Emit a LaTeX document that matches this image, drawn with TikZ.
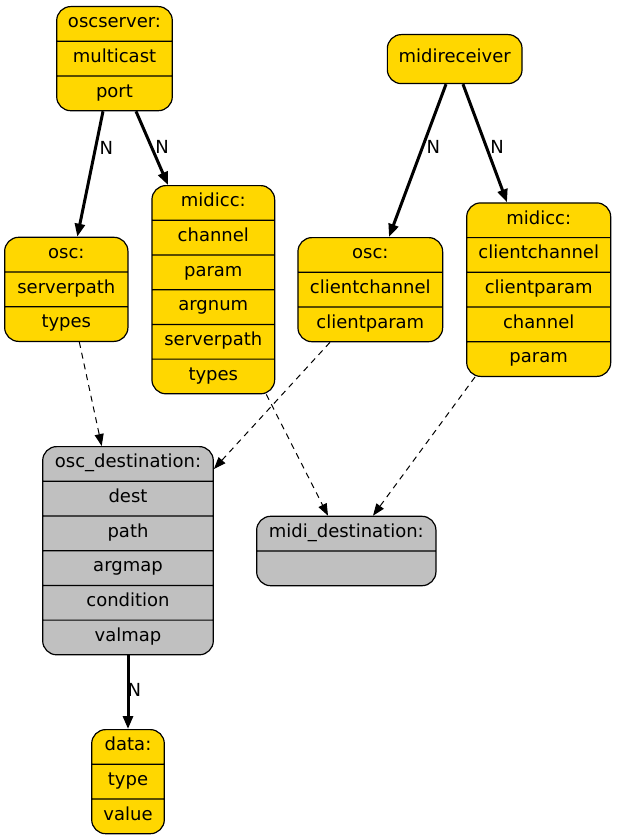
\documentclass[tikz,border=0pt]{standalone}
\usepackage{fontspec}
\setmainfont{DejaVu Sans}
\usetikzlibrary{shapes.multipart,arrows.meta}

\definecolor{recgold}{HTML}{FFD700}
\definecolor{recgray}{HTML}{C0C0C0}

% one field of a record
\newcommand{\fld}[1]{\rule[-12.85pt]{0pt}{33.5pt}#1}

\begin{document}
\begin{tikzpicture}[x=1pt,y=-1pt,
	every node/.style={font=\fontsize{18}{21}\selectfont},
	rec/.style={draw,line width=1.2pt,rectangle split,rounded corners=14pt,anchor=north,inner xsep=0pt,inner ysep=0pt,align=center},
	has/.style={line width=3pt,-{Triangle[length=13pt,width=10pt]}},
	ref/.style={line width=1pt,dash pattern=on 6pt off 5pt,-{Triangle[length=12pt,width=9pt]}},
	card/.style={anchor=west,inner sep=0pt,xshift=2.5pt}]
	\useasboundingbox (0,0) rectangle (616,840);
			\node[rec,fill=recgold,text width=115.6pt,rectangle split parts=3] (oscserver)at(114.5,6) {\fld{oscserver:}\nodepart{two}\fld{multicast}\nodepart{three}\fld{port}};
			\node[rec,fill=recgold,text width=134.7pt,rectangle split parts=1] (midireceiver)at(454.7,34) {\rule[-20pt]{0pt}{47.8pt}midireceiver};
			\node[rec,fill=recgold,text width=123.3pt,rectangle split parts=3] (oscL)at(66.3,236.7) {\fld{osc:}\nodepart{two}\fld{serverpath}\nodepart{three}\fld{types}};
			\node[rec,fill=recgold,text width=122.7pt,rectangle split parts=6] (midiccL)at(213.3,185) {\fld{midicc:}\nodepart{two}\fld{channel}\nodepart{three}\fld{param}\nodepart{four}\fld{argnum}\nodepart{five}\fld{serverpath}\nodepart{six}\fld{types}};
			\node[rec,fill=recgold,text width=144.7pt,rectangle split parts=3] (oscR)at(370.3,237) {\fld{osc:}\nodepart{two}\fld{clientchannel}\nodepart{three}\fld{clientparam}};
			\node[rec,fill=recgold,text width=144pt,rectangle split parts=5] (midiccR)at(538.7,202.3) {\fld{midicc:}\nodepart{two}\fld{clientchannel}\nodepart{three}\fld{clientparam}\nodepart{four}\fld{channel}\nodepart{five}\fld{param}};
			\node[rec,fill=recgray,text width=170.6pt,rectangle split parts=6] (oscdest)at(128,446) {\fld{osc\_destination:}\nodepart{two}\fld{dest}\nodepart{three}\fld{path}\nodepart{four}\fld{argmap}\nodepart{five}\fld{condition}\nodepart{six}\fld{valmap}};
			\node[rec,fill=recgray,text width=179.3pt,rectangle split parts=2] (mididest)at(346.3,515.7) {\fld{midi\_destination:}\nodepart{two}\fld{}};
			\node[rec,fill=recgold,text width=72.6pt,rectangle split parts=3] (data)at(128,729) {\fld{data:}\nodepart{two}\fld{type}\nodepart{three}\fld{value}};
			\draw[has] ([xshift=-11.5pt]oscserver.south) -- node[card,pos=0.29] {N} ([xshift=11pt]oscL.north);
			\draw[has] ([xshift=21.5pt]oscserver.south) -- node[card,pos=0.48] {N} ([xshift=-45.3pt]midiccL.north);
			\draw[has] ([xshift=-8.7pt]midireceiver.south) -- node[card,pos=0.41] {N} ([xshift=18.7pt]oscR.north);
			\draw[has] ([xshift=8.3pt]midireceiver.south) -- node[card,pos=0.53] {N} ([xshift=-31.7pt]midiccR.north);
			\draw[has] (oscdest.south) -- node[card,pos=0.47,xshift=-4.5pt] {N} (data.north);
			\draw[ref] ([xshift=13pt]oscL.south) -- ([xshift=-26.3pt]oscdest.north);
			\draw[ref] ([xshift=-40.3pt]oscR.south) -- ([yshift=-23pt]oscdest.north east);
			\draw[ref] ([xshift=53pt]midiccL.south) -- ([xshift=-18.3pt]mididest.north);
			\draw[ref] ([xshift=-63.7pt]midiccR.south) -- ([xshift=26.7pt]mididest.north);
		\end{tikzpicture}
\end{document}
